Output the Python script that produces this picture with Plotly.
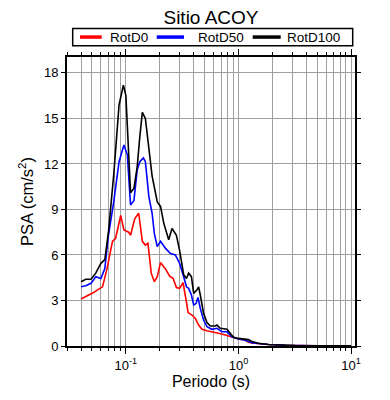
import plotly.graph_objects as go

# ---- data ----
period_d0 = [0.040, 0.044, 0.049, 0.052, 0.056, 0.062, 0.068, 0.076, 0.081, 0.090, 0.096,
             0.106, 0.110, 0.120, 0.130, 0.140, 0.149, 0.157, 0.168, 0.179, 0.190, 0.203,
             0.224, 0.245, 0.263, 0.281, 0.300, 0.322, 0.345, 0.357, 0.387, 0.414, 0.443,
             0.474, 0.525, 0.581, 0.665, 0.763, 0.874, 1.0, 1.13, 1.226, 1.314, 1.503,
             1.843, 2.59, 3.18, 5.07, 10.0]
psa_d0 = [3.10, 3.25, 3.47, 3.54, 3.70, 3.90, 5.10, 6.90, 7.10, 8.60, 7.65,
          7.50, 7.30, 8.40, 8.75, 6.90, 6.65, 6.77, 4.80, 4.24, 4.57, 5.50,
          5.10, 4.60, 4.45, 3.85, 3.80, 4.17, 2.90, 2.20, 2.04, 1.82, 1.38,
          1.10, 1.00, 0.94, 0.84, 0.72, 0.57, 0.46, 0.40, 0.25, 0.20, 0.15,
          0.10, 0.05, 0.03, 0.02, 0.01]

period_d50 = [0.040, 0.044, 0.049, 0.054, 0.060, 0.065, 0.070, 0.078, 0.087, 0.096, 0.103,
              0.110, 0.118, 0.126, 0.133, 0.143, 0.149, 0.160, 0.171, 0.179, 0.190, 0.203,
              0.224, 0.249, 0.275, 0.300, 0.326, 0.345, 0.361, 0.382, 0.400, 0.420, 0.437,
              0.458, 0.490, 0.525, 0.581, 0.644, 0.713, 0.790, 0.874, 1.0, 1.13, 1.226,
              1.314, 1.503, 1.843, 2.59, 3.18, 5.07, 10.0]
psa_d50 = [3.90, 3.97, 4.13, 4.57, 4.45, 5.10, 7.30, 9.50, 12.15, 13.25, 12.60,
           9.30, 9.60, 11.60, 12.15, 12.40, 12.15, 9.85, 8.75, 7.40, 6.55, 6.90,
           6.45, 6.10, 6.00, 5.45, 4.57, 3.90, 3.80, 3.36, 2.70, 2.80, 3.20,
           2.48, 1.71, 1.27, 1.10, 1.17, 0.94, 0.94, 0.61, 0.46, 0.40, 0.30,
           0.22, 0.17, 0.10, 0.05, 0.03, 0.02, 0.01]

period_d100 = [0.040, 0.044, 0.049, 0.054, 0.060, 0.065, 0.070, 0.078, 0.087, 0.095, 0.100,
               0.110, 0.118, 0.126, 0.133, 0.140, 0.149, 0.160, 0.171, 0.190, 0.203, 0.217,
               0.240, 0.257, 0.281, 0.300, 0.326, 0.345, 0.361, 0.382, 0.400, 0.428, 0.443,
               0.458, 0.490, 0.525, 0.562, 0.622, 0.644, 0.689, 0.737, 0.790, 0.845, 0.903,
               1.0, 1.107, 1.226, 1.314, 1.503, 1.843, 2.59, 3.18, 5.07, 10.0]
psa_d100 = [4.24, 4.40, 4.40, 4.80, 5.45, 5.70, 7.50, 11.30, 15.90, 17.20, 16.50,
            10.10, 10.40, 11.80, 13.80, 15.40, 15.00, 12.90, 11.20, 9.50, 9.20, 8.10,
            7.00, 7.75, 7.30, 6.30, 4.70, 4.45, 4.80, 4.57, 3.47, 3.70, 3.90,
            3.36, 2.15, 1.54, 1.32, 1.32, 1.38, 1.17, 1.12, 1.10, 0.84, 0.57,
            0.50, 0.48, 0.42, 0.30, 0.18, 0.10, 0.05, 0.03, 0.02, 0.01]

series_names = ["RotD0", "RotD50", "RotD100"]
series_colors = ["#ff0000", "#0000ff", "#000000"]

x_major_ticks = [0.1, 1, 10]
x_major_labels = ["10<sup>-1</sup>", "10<sup>0</sup>", "10<sup>1</sup>"]
x_minor_ticks = [m * d for d in (0.01, 0.1, 1) for m in range(2, 10)] + [0.1, 1, 10]
y_ticks = [0, 3, 6, 9, 12, 15, 18]

FONT = "Liberation Sans, Arial, Helvetica, sans-serif"

fig = go.Figure()
for name, color, xs, ys in zip(series_names, series_colors,
                               [period_d0, period_d50, period_d100],
                               [psa_d0, psa_d50, psa_d100]):
    fig.add_trace(go.Scatter(x=xs, y=ys, mode="lines", name=name,
                             line=dict(color=color, width=1.6)))

# page body adds an 8px offset; margins compensate so the plot area lands at 67..355 x 57..346
fig.update_layout(
    width=390, height=400,
    margin=dict(l=59, r=43, t=49, b=62, autoexpand=False),
    paper_bgcolor="white", plot_bgcolor="white",
    font=dict(family=FONT, color="black", size=13),
    title=dict(text="Sitio ACOY", x=0.5, xref="paper", xanchor="center",
               y=0.977, yref="container", yanchor="middle",
               font=dict(size=19, family=FONT, color="black")),
    showlegend=False,
)

# legend box drawn above the plot (frame, line samples, labels)
legend_box = dict(x0=0.0198, x1=0.992, y0=1.039, y1=1.099)
legend_y = 1.069
legend_line_x = [(0.0451, 0.1205), (0.3115, 0.4063), (0.6448, 0.742)]
legend_text_x = [0.1413, 0.4479, 0.7569]
fig.add_shape(type="rect", xref="paper", yref="paper", layer="above",
              line=dict(color="black", width=1.5), fillcolor="white", **legend_box)
for name, color, (lx0, lx1), tx in zip(series_names, series_colors, legend_line_x, legend_text_x):
    fig.add_shape(type="line", xref="paper", yref="paper", x0=lx0, x1=lx1,
                  y0=legend_y, y1=legend_y, line=dict(color=color, width=3.5))
    fig.add_annotation(text=name, xref="paper", yref="paper", x=tx, y=legend_y,
                       xanchor="left", yanchor="middle", showarrow=False,
                       font=dict(size=13.5, family=FONT, color="black"))

fig.update_xaxes(
    type="log", range=[-1.523, 1.035], automargin=False,
    tickvals=x_major_ticks, ticktext=x_major_labels,
    ticks="outside", ticklen=6, tickwidth=1, tickcolor="black",
    showgrid=True, gridcolor="#a0a0a0", gridwidth=1,
    minor=dict(tickvals=x_minor_ticks, ticks="outside", ticklen=3, tickwidth=1,
               tickcolor="black", showgrid=True, gridcolor="#a0a0a0", gridwidth=1),
    showline=True, linecolor="black", linewidth=2, mirror="allticks",
    zeroline=False,
    title=dict(text="Periodo (s)", font=dict(size=16, family=FONT), standoff=4),
    tickfont=dict(size=13, family=FONT),
)
fig.update_yaxes(
    range=[0, 19.05], tickvals=y_ticks, automargin=False,
    ticks="outside", ticklen=4, tickwidth=1, tickcolor="black",
    showgrid=True, gridcolor="#a0a0a0", gridwidth=1,
    showline=True, linecolor="black", linewidth=2, mirror="allticks",
    zeroline=False,
    title=dict(text="PSA (cm/s<sup>2</sup>)", font=dict(size=16.5, family=FONT), standoff=6),
    tickfont=dict(size=13, family=FONT),
)

fig.write_html("out.html")
